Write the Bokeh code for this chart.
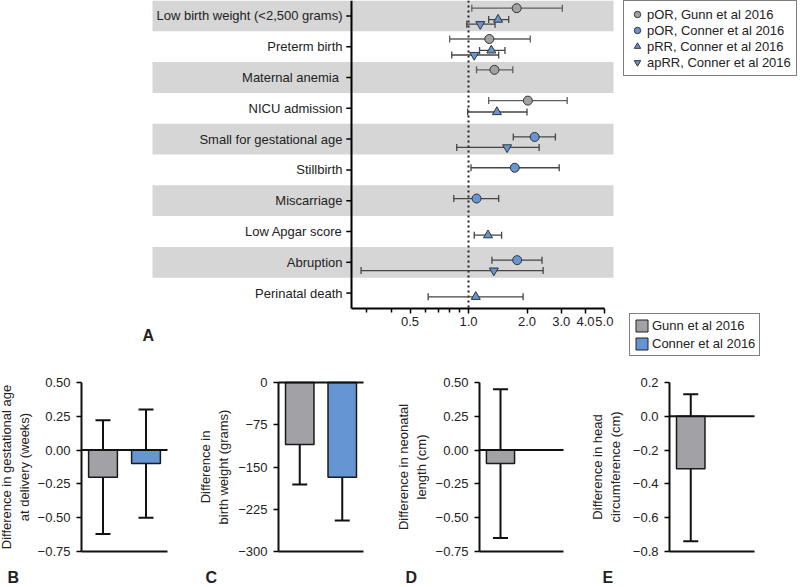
from bokeh.plotting import figure
from bokeh.models import (ColumnDataSource, Range1d, Whisker, TeeHead, Label, Legend, LegendItem,
                          FixedTicker, PrintfTickFormatter, LinearAxis, LogAxis)
from bokeh.transform import dodge
from bokeh.layouts import column, row
from bokeh.embed import file_html
from bokeh.resources import INLINE
from bokeh.core.properties import value

FONT = "Liberation Sans"
GRAY = "#a2a2a6"
BLUE = "#6595d2"
BAND = "#d6d6d6"
TEXT = "#222222"

# ---------------- Panel A data (forest plot) ----------------
outcomes = ["Low birth weight (<2,500 grams)", "Preterm birth", "Maternal anemia",
            "NICU admission", "Small for gestational age", "Stillbirth", "Miscarriage",
            "Low Apgar score", "Abruption", "Perinatal death"]
outcome_labels = ["Low birth weight (<2,500 grams)", "Preterm birth", "Maternal anemia\u00a0",
                  "NICU admission", "Small for gestational age", "Stillbirth", "Miscarriage",
                  "Low Apgar score", "Abruption", "Perinatal death"]

gunn_por_outcomes = ["Low birth weight (<2,500 grams)", "Preterm birth", "Maternal anemia", "NICU admission"]
gunn_por = [1.77, 1.28, 1.36, 2.02]
gunn_por_lo = [1.04, 0.80, 1.10, 1.27]
gunn_por_hi = [3.04, 2.08, 1.69, 3.22]

conner_por_outcomes = ["Small for gestational age", "Stillbirth", "Miscarriage", "Abruption"]
conner_por = [2.19, 1.73, 1.10, 1.78]
conner_por_lo = [1.70, 1.03, 0.84, 1.32]
conner_por_hi = [2.80, 2.93, 1.43, 2.39]

conner_prr_outcomes = ["Low birth weight (<2,500 grams)", "Preterm birth", "NICU admission",
                       "Low Apgar score", "Perinatal death"]
conner_prr = [1.42, 1.31, 1.40, 1.26, 1.09]
conner_prr_lo = [1.27, 1.14, 0.99, 1.07, 0.62]
conner_prr_hi = [1.61, 1.54, 2.00, 1.48, 1.91]

conner_aprr_outcomes = ["Low birth weight (<2,500 grams)", "Preterm birth",
                        "Small for gestational age", "Abruption"]
conner_aprr = [1.15, 1.07, 1.58, 1.35]
conner_aprr_lo = [0.98, 0.82, 0.87, 0.28]
conner_aprr_hi = [1.37, 1.43, 2.31, 2.42]

series_labels = ["pOR, Gunn et al 2016", "pOR, Conner et al 2016",
                 "pRR, Conner et al 2016", "apRR, Conner et al 2016"]

x_ticks = [0.5, 1.0, 2.0, 3.0, 4.0, 5.0]
x_minor_ticks = [0.3, 0.4, 0.6, 0.7, 0.8, 0.9]
X_AXIS_START = 0.25
X_AXIS_END = 5.0

# ---------------- Panels B-E data ----------------
studies = ["Gunn et al 2016", "Conner et al 2016"]
study_colors = [GRAY, BLUE]

gest_age_diff = [-0.20, -0.10]
gest_age_lo = [-0.62, -0.50]
gest_age_hi = [0.22, 0.30]
gest_ticks = [0.5, 0.25, 0.0, -0.25, -0.5, -0.75]
gest_tick_labels = ["0.50", "0.25", "0.00", "\u22120.25", "\u22120.50", "\u22120.75"]

bw_diff = [-110, -168]
bw_lo = [-181, -245]
bw_hi = [-40, -90]
bw_ticks = [0, -75, -150, -225, -300]
bw_tick_labels = ["0", "\u221275", "\u2212150", "\u2212225", "\u2212300"]

len_diff = [-0.10]
len_lo = [-0.65]
len_hi = [0.45]
len_ticks = [0.5, 0.25, 0.0, -0.25, -0.5, -0.75]
len_tick_labels = ["0.50", "0.25", "0.00", "\u22120.25", "\u22120.50", "\u22120.75"]

hc_diff = [-0.31]
hc_lo = [-0.74]
hc_hi = [0.13]
hc_ticks = [0.2, 0.0, -0.2, -0.4, -0.6, -0.8]
hc_tick_labels = ["0.2", "0.0", "\u22120.2", "\u22120.4", "\u22120.6", "\u22120.8"]

# ---------------- layout geometry (pixels) ----------------
TOP_W, TOP_H = 800, 358
PX_PER_OCT = 58.5          # horizontal pixels per doubling on the forest axis
ONE_PX = 468               # pixel column of ratio 1.0
ROW_PX = 30.8              # height of one outcome row
BAND_LEFT_PX, BAND_RIGHT_PX = 152, 613


def ratio_at(px):
    return 2 ** ((px - ONE_PX) / PX_PER_OCT)


# ---------------- Forest plot (panel A) ----------------
fp = figure(width=TOP_W, height=TOP_H, x_axis_type="log",
            x_range=Range1d(ratio_at(0), ratio_at(TOP_W)),
            y_range=Range1d(-0.5 + TOP_H / ROW_PX, -0.5),
            x_axis_location=None, y_axis_location=None,
            output_backend="svg", toolbar_location=None, min_border=0)
fp.outline_line_color = None
fp.grid.visible = False
fp.background_fill_color = "white"
fp.border_fill_color = "white"

rows = list(range(len(outcomes)))
fp.hbar(y=rows[0::2], left=ratio_at(BAND_LEFT_PX), right=ratio_at(BAND_RIGHT_PX), height=1.0,
        fill_color=BAND, line_color=None, level="image")

fp.text(x=[X_AXIS_START] * len(outcomes), y=rows, text=outcome_labels,
        x_offset=-9, text_align="right", text_baseline="middle",
        text_font=value(FONT), text_font_size="13px", text_color=TEXT)
TICK_FRAC = 0.94
fp.segment(x0=[X_AXIS_START * TICK_FRAC] * len(outcomes), x1=[X_AXIS_START] * len(outcomes),
           y0=rows, y1=rows, line_color="black", line_width=1.5)
# vertical axis line and the dotted line of no effect
fp.segment(x0=[X_AXIS_START], x1=[X_AXIS_START], y0=[-0.5], y1=[len(outcomes) - 0.5],
           line_color="black", line_width=2)
fp.segment(x0=[1.0], x1=[1.0], y0=[-0.5], y1=[len(outcomes) - 0.5],
           line_color="#222222", line_width=2, line_dash="2 3", level="underlay")

ax = LogAxis(fixed_location=len(outcomes) - 0.5,
             ticker=FixedTicker(ticks=x_ticks, minor_ticks=x_minor_ticks),
             formatter=PrintfTickFormatter(format="%.1f"),
             bounds=(X_AXIS_START, X_AXIS_END),
             axis_line_width=2, axis_line_color="black",
             major_tick_out=5, major_tick_in=0, major_tick_line_width=1.5,
             minor_tick_out=4, minor_tick_in=0, minor_tick_line_width=1.5,
             major_label_text_font=FONT, major_label_text_font_size="13px",
             major_label_text_color=TEXT, major_label_standoff=3)
fp.add_layout(ax, "below")

fp.add_layout(Label(x=142, y=TOP_H - 335, x_units="screen", y_units="screen", text="A",
                    text_align="left", text_baseline="middle", text_font=FONT,
                    text_font_size="16px", text_font_style="bold", text_color=TEXT))

markers = ["circle", "circle", "triangle", "inverted_triangle"]
fills = [GRAY, BLUE, BLUE, BLUE]
whisker_colors = ["#5f5f5f", "#454545", "#454545", "#454545"]
row_offsets = [-0.25, -0.07, 0.12, 0.27]
series = [(gunn_por_outcomes, gunn_por, gunn_por_lo, gunn_por_hi),
          (conner_por_outcomes, conner_por, conner_por_lo, conner_por_hi),
          (conner_prr_outcomes, conner_prr, conner_prr_lo, conner_prr_hi),
          (conner_aprr_outcomes, conner_aprr, conner_aprr_lo, conner_aprr_hi)]

marker_renderers = []
for (cats, est, lo, hi), off, m, f, wc in zip(series, row_offsets, markers, fills, whisker_colors):
    src = ColumnDataSource(dict(row=[outcomes.index(c) for c in cats], est=est, lo=lo, hi=hi))
    yspec = dodge("row", off)
    fp.add_layout(Whisker(source=src, base=yspec, lower="lo", upper="hi", dimension="width",
                          line_color=wc, line_width=1.3, level="underlay",
                          lower_head=TeeHead(size=7, line_color=wc, line_width=1.3),
                          upper_head=TeeHead(size=7, line_color=wc, line_width=1.3)))
    marker_renderers.append(fp.scatter(x="est", y=yspec, source=src, marker=m, size=9,
                                       fill_color=f, line_color="#333333", line_width=1))

leg1 = Legend(items=[LegendItem(label=l, renderers=[r]) for l, r in zip(series_labels, marker_renderers)],
              location=(623, TOP_H - 76), glyph_width=16, glyph_height=16, label_height=16,
              spacing=0, padding=5, margin=0, label_standoff=2,
              label_text_font=FONT, label_text_font_size="13px", label_text_color=TEXT,
              border_line_color="black", border_line_width=1, background_fill_alpha=1)
fp.add_layout(leg1)

# ---------------- bar data sources ----------------
def bar_source(vals, lo, hi):
    n = len(vals)
    return ColumnDataSource(dict(pos=[i + 0.5 for i in range(n)], study=studies[:n], val=vals,
                                 lo=lo, hi=hi, color=study_colors[:n]))


src_B = bar_source(gest_age_diff, gest_age_lo, gest_age_hi)
src_C = bar_source(bw_diff, bw_lo, bw_hi)
src_D = bar_source(len_diff, len_lo, len_hi)
src_E = bar_source(hc_diff, hc_lo, hc_hi)

# legend swatches for the bar panels: drawn from panel B's source on a range far off-frame
fp.extra_x_ranges = {"swatch": Range1d(1000, 1001)}
fp.extra_y_ranges = {"swatch": Range1d(1000, 1001)}
bar_proxy = fp.vbar(x="hi", top="hi", bottom="lo", width=0.1, fill_color="color",
                    line_color="#222222", line_width=1, source=src_B,
                    x_range_name="swatch", y_range_name="swatch")
leg2 = Legend(items=[LegendItem(label=s, renderers=[bar_proxy], index=i) for i, s in enumerate(studies)],
              location=(629, TOP_H - 356), glyph_width=15, glyph_height=15, label_height=15,
              spacing=3, padding=4, margin=0, label_standoff=3,
              label_text_font=FONT, label_text_font_size="13px", label_text_color=TEXT,
              border_line_color="black", border_line_width=1, background_fill_alpha=1)
fp.add_layout(leg2)

# ---------------- Bar panels (B-E) ----------------
BAR_H = 229
BAR_TOP_PX = 24      # from figure top to the top tick
BAR_PLOT_PX = 169    # from top tick to bottom tick


def bar_panel(src, ticks, tick_labels, ylabel, label_standoff, letter, letter_x,
              width, axis_px, right_px):
    y_lo, y_hi = min(ticks), max(ticks)
    ppu_y = BAR_PLOT_PX / (y_hi - y_lo)
    y_top = y_hi + BAR_TOP_PX / ppu_y
    y_bot = y_lo - (BAR_H - BAR_TOP_PX - BAR_PLOT_PX) / ppu_y
    n_slots = len(studies)
    ppu_x = (right_px - axis_px) / n_slots
    p = figure(width=width, height=BAR_H,
               x_range=Range1d(-axis_px / ppu_x, n_slots + (width - right_px) / ppu_x),
               y_range=Range1d(y_bot, y_top), x_axis_location=None, y_axis_location=None,
               output_backend="svg", toolbar_location=None, min_border=0)
    p.outline_line_color = None
    p.grid.visible = False
    p.vbar(x="pos", top="val", bottom=0, width=0.67, fill_color="color",
           line_color="#1a1a1a", line_width=1.5, source=src)
    p.add_layout(Whisker(source=src, base="pos", lower="lo", upper="hi", dimension="height",
                         line_color="#111111", line_width=2,
                         lower_head=TeeHead(size=15, line_color="#111111", line_width=2),
                         upper_head=TeeHead(size=15, line_color="#111111", line_width=2)))
    p.segment(x0=[0], x1=[n_slots], y0=[0], y1=[0], line_color="#111111", line_width=2)

    ya = LinearAxis(fixed_location=0, bounds=(y_lo, y_hi), ticker=FixedTicker(ticks=ticks),
                    major_label_overrides={t: s for t, s in zip(ticks, tick_labels)},
                    axis_line_width=2, axis_line_color="#111111",
                    major_tick_out=5, major_tick_in=0, major_tick_line_width=1.5,
                    minor_tick_line_color=None, major_label_standoff=6,
                    major_label_text_font=FONT, major_label_text_font_size="13px",
                    major_label_text_color=TEXT,
                    axis_label=ylabel, axis_label_standoff=label_standoff,
                    axis_label_text_font=FONT, axis_label_text_font_size="13px",
                    axis_label_text_font_style="normal", axis_label_text_color=TEXT)
    p.add_layout(ya, "left")
    xa = LinearAxis(fixed_location=y_lo, bounds=(0, n_slots), ticker=FixedTicker(ticks=[]),
                    axis_line_width=2, axis_line_color="#111111",
                    major_tick_line_color=None, minor_tick_line_color=None)
    p.add_layout(xa, "below")

    p.add_layout(Label(x=letter_x, y=10, x_units="screen", y_units="screen", text=letter,
                       text_align="left", text_baseline="middle", text_font=FONT,
                       text_font_size="16px", text_font_style="bold", text_color=TEXT))
    return p


pB = bar_panel(src_B, gest_ticks, gest_tick_labels,
               "Difference in gestational age\nat delivery (weeks)", 3, "B", 7, 180, 81, 167)
pC = bar_panel(src_C, bw_ticks, bw_tick_labels,
               "Difference in\nbirth weight (grams)", 4, "C", 25, 200, 98, 183)
pD = bar_panel(src_D, len_ticks, len_tick_labels,
               "Difference in neonatal\nlength (cm)", 4, "D", 25, 200, 99, 183)
pE = bar_panel(src_E, hc_ticks, hc_tick_labels,
               "Difference in head\ncircumference (cm)", 7, "E", 22, 220, 89, 174)

layout = column(fp, row(pB, pC, pD, pE))
open("out.html", "w").write(file_html(layout, INLINE))
